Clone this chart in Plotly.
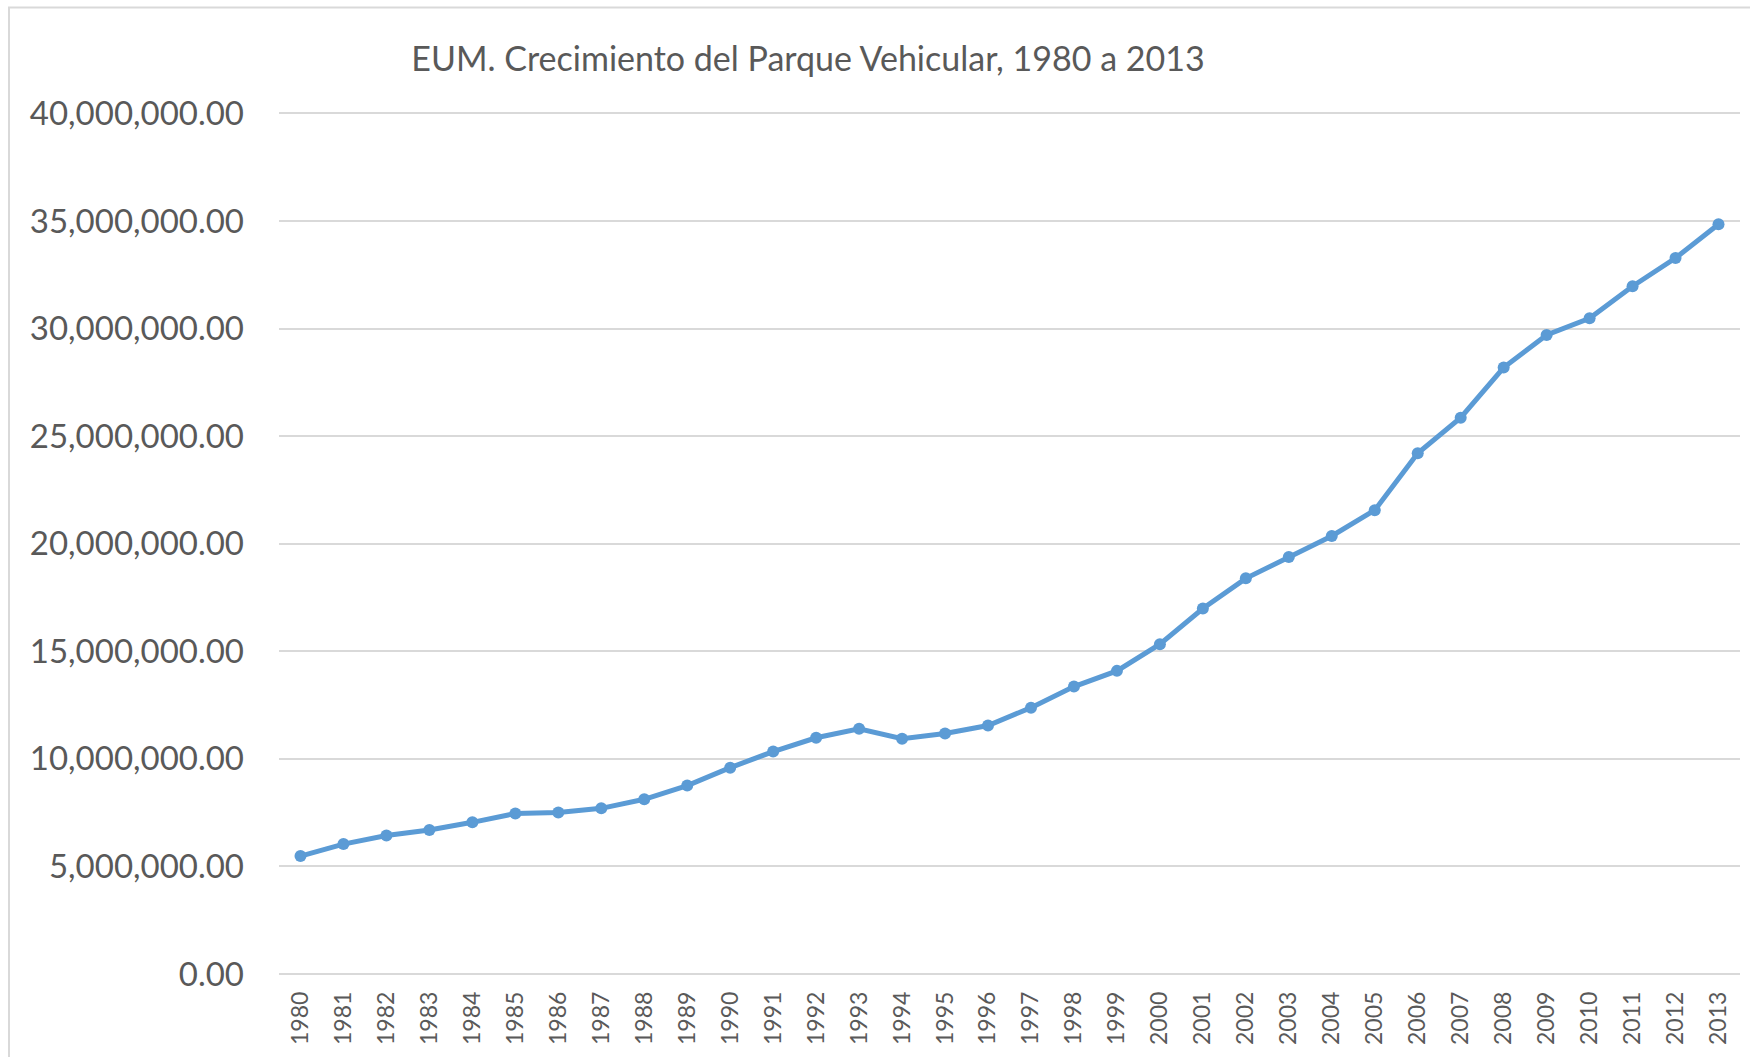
import plotly.graph_objects as go

# ---- data ----
years = [str(y) for y in range(1980, 2014)]
vehiculos = [
    5480000, 6040000, 6440000, 6690000, 7050000, 7460000, 7510000, 7700000,
    8120000, 8760000, 9590000, 10340000, 10980000, 11400000, 10940000, 11180000,
    11550000, 12380000, 13360000, 14090000, 15330000, 16990000, 18390000, 19380000,
    20360000, 21560000, 24200000, 25860000, 28190000, 29700000, 30480000, 31970000,
    33280000, 34850000,
]
y_ticks = [0, 5000000, 10000000, 15000000, 20000000, 25000000, 30000000, 35000000, 40000000]
title_text = "EUM. Crecimiento del Parque Vehicular, 1980 a 2013"

# ---- layout geometry (pixels) ----
W, H = 1750, 1057
Y_ZERO_PX = 974          # pixel row of the 0 gridline
Y_TOP_PX = 113           # pixel row of the 40,000,000 gridline
Y_MAX = 40000000
Y_PAD = 1.004            # tiny headroom so the top gridline is drawn
L, R = 279, 10
B = H - Y_ZERO_PX
ph = (Y_ZERO_PX - Y_TOP_PX) * Y_PAD
T = H - B - ph
pw = W - L - R

GRAY = "#595959"
GRID = "#d9d9d9"
BLUE = "#5B9BD5"
FONT = "Lato"

fig = go.Figure()
fig.add_trace(go.Scatter(
    x=years, y=vehiculos, mode="lines+markers",
    line=dict(color=BLUE, width=5),
    marker=dict(color=BLUE, size=12),
    hoverinfo="skip", showlegend=False,
))

def px_x(p):
    return (p - L) / pw

def px_y(p):
    return (H - B - p) / ph

fig.update_layout(
    width=W, height=H,
    margin=dict(l=L, r=R, t=T, b=B, pad=0),
    paper_bgcolor="white", plot_bgcolor="white",
    font=dict(family=FONT, color=GRAY),
    title=dict(text=title_text, xref="container", yref="container",
               x=808 / W, y=1 - 59 / H, xanchor="center", yanchor="middle",
               font=dict(family=FONT, size=34, color=GRAY)),
    xaxis=dict(type="category", range=[-0.5, len(years) - 0.5],
               tickangle=-90, showgrid=False, zeroline=False, showline=False,
               ticks="", ticklabelstandoff=12, automargin=False,
               tickfont=dict(family=FONT, size=23, color=GRAY)),
    yaxis=dict(range=[0, Y_MAX * Y_PAD], tickvals=y_ticks, tickformat=",.2f",
               showgrid=True, gridcolor=GRID, gridwidth=1.5,
               zeroline=True, zerolinecolor=GRID, zerolinewidth=1.5,
               showline=False, ticks="", ticklabelstandoff=34, automargin=False,
               tickfont=dict(family=FONT, size=33, color=GRAY)),
    shapes=[dict(type="rect", xref="paper", yref="paper",
                 x0=px_x(9), x1=px_x(W + 20), y0=px_y(H + 20), y1=px_y(7),
                 line=dict(color=GRID, width=2), fillcolor="rgba(0,0,0,0)", layer="below")],
)

fig.write_html("out.html", config={"displayModeBar": False},
               post_script="document.body.style.margin='0';document.body.style.overflow='hidden';")
